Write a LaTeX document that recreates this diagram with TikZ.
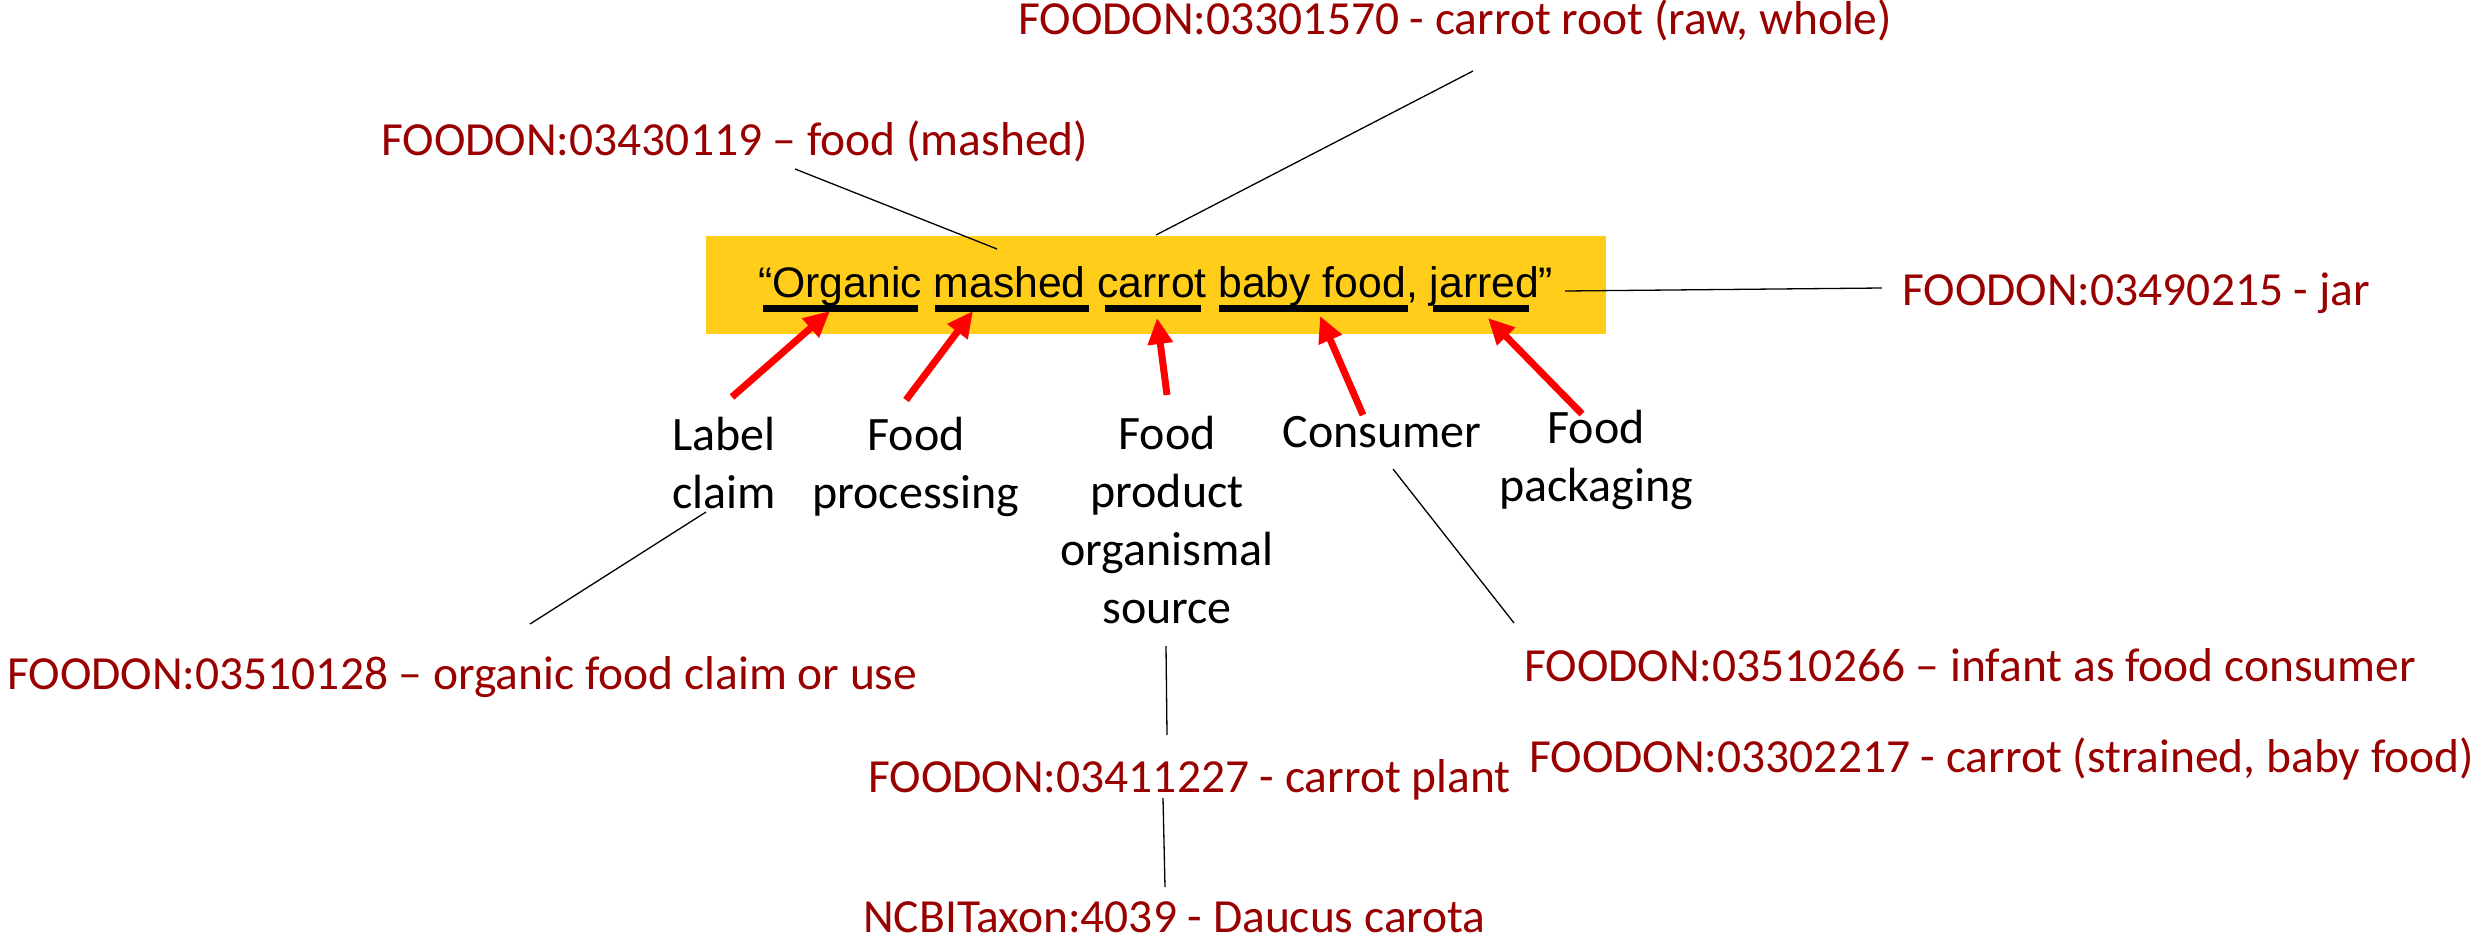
\documentclass[tikz,border=0pt]{standalone}
\usepackage{fontspec}
\setmainfont{Carlito}
\newfontfamily\arialf{Liberation Sans}
\usetikzlibrary{arrows.meta}
\definecolor{ontored}{RGB}{153,0,0}
\definecolor{goldbox}{RGB}{255,205,26}
\definecolor{arrred}{RGB}{255,0,0}
\newcommand{\rolelines}[1]{\begin{tabular}[t]{@{}c@{}}#1\end{tabular}}
\begin{document}
\begin{tikzpicture}[x=1pt,y=-1pt,
  onto/.style={text=ontored, font=\fontsize{47.5}{56}\selectfont, inner sep=0pt, anchor=base west},
  role/.style={font=\fontsize{48}{58}\selectfont, inner sep=0pt, anchor=base},
  uline/.style={line width=7pt},
  tagarrow/.style={draw=arrred, line width=7pt, -{Triangle[length=26pt,width=24pt]}},
  thinlink/.style={line width=1.3pt}]
\useasboundingbox (0,0) rectangle (2484,947);
% yellow box and quoted product name
\node[fill=goldbox, minimum width=900pt, minimum height=98pt, anchor=north west, inner sep=0pt] (box) at (706,236) {};
\node[font=\arialf\fontsize{42.7}{50}\selectfont, anchor=base west, inner sep=0pt] (quote) at (758,297) {“Organic mashed carrot baby food, jarred”};
% underlines
\draw[uline] (763,308) -- (918,308);
\draw[uline] (935,308) -- (1089,308);
\draw[uline] (1105,308) -- (1201,308);
\draw[uline] (1219,308) -- (1408,308);
\draw[uline] (1433,308) -- (1529,308);
% ontology labels
\node[onto] (root) at (1018,35) {FOODON:03301570 - carrot root (raw, whole)};
\node[onto] (mashed) at (381,156) {FOODON:03430119 – food (mashed)};
\node[onto] (jar) at (1902,305) {FOODON:03490215 - jar};
\node[onto] (organic) at (7,689) {FOODON:03510128 – organic food claim or use};
\node[onto] (infant) at (1524,681) {FOODON:03510266 – infant as food consumer};
\node[onto] (strained) at (1529,772) {FOODON:03302217 - carrot (strained, baby food)};
\node[onto] (plant) at (868,792) {FOODON:03411227 - carrot plant};
\node[onto] (taxon) at (863,932) {NCBITaxon:4039 - Daucus carota};
% role labels
\node[role] (claim) at (724,450) {\rolelines{Label\\claim}};
\node[role] (processing) at (916,450) {\rolelines{Food\\processing}};
\node[role] (source) at (1167,449) {\rolelines{Food\\product\\organismal\\source}};
\node[role] (consumer) at (1382,447) {Consumer};
\node[role] (packaging) at (1596,443) {\rolelines{Food\\packaging}};
% arrow end points
\coordinate (a1s) at (732,397); \coordinate (a1e) at (830,311);
\coordinate (a2s) at (906,400); \coordinate (a2e) at (973,311);
\coordinate (a3s) at (1167,395); \coordinate (a3e) at (1157,318);
\coordinate (a4s) at (1363,415); \coordinate (a4e) at (1320,316);
\coordinate (a5s) at (1582,414); \coordinate (a5e) at (1488,318);
\draw[tagarrow] (a1s) -- (a1e);
\draw[tagarrow] (a2s) -- (a2e);
\draw[tagarrow] (a3s) -- (a3e);
\draw[tagarrow] (a4s) -- (a4e);
\draw[tagarrow] (a5s) -- (a5e);
% thin links
\coordinate (m1) at (795,169); \coordinate (m2) at (997,249);
\coordinate (r1) at (1473,71); \coordinate (r2) at (1156,235);
\coordinate (j1) at (1565,291); \coordinate (j2) at (1882,288);
\coordinate (c1) at (706,512); \coordinate (c2) at (530,624);
\coordinate (s1) at (1166,646); \coordinate (s2) at (1167,735);
\coordinate (p1) at (1163,798); \coordinate (p2) at (1165,887);
\coordinate (u1) at (1393,469); \coordinate (u2) at (1514,623);
\draw[thinlink] (m1) -- (m2);
\draw[thinlink] (r1) -- (r2);
\draw[thinlink] (j1) -- (j2);
\draw[thinlink] (c1) -- (c2);
\draw[thinlink] (s1) -- (s2);
\draw[thinlink] (p1) -- (p2);
\draw[thinlink] (u1) -- (u2);
\end{tikzpicture}
\end{document}
